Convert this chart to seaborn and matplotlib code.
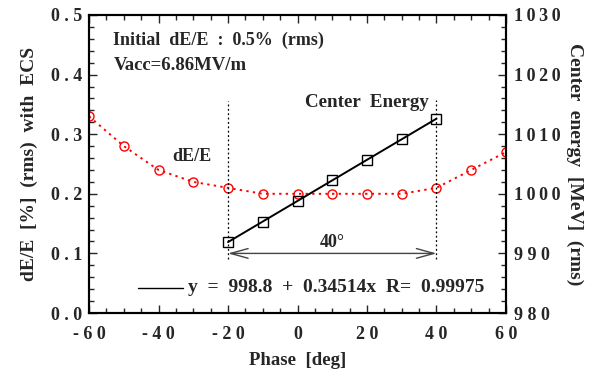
import matplotlib
matplotlib.use("Agg")
import matplotlib.pyplot as plt
import numpy as np
import pandas as pd
import seaborn as sns
from matplotlib.ticker import MultipleLocator

sns.set_theme(style="ticks")
plt.rcParams["font.family"] = ["Liberation Serif", "DejaVu Serif"]
plt.rcParams["font.weight"] = "bold"

# dE/E spread vs phase (left axis)
phase_de = [-60, -50, -40, -30, -20, -10, 0, 10, 20, 30, 40, 50, 60]
de_e = [0.33, 0.28, 0.24, 0.22, 0.21, 0.20, 0.20, 0.20, 0.20, 0.20, 0.21, 0.24, 0.27]

# center energy vs phase (right axis)
phase_ce = [-20, -10, 0, 10, 20, 30, 40]
center_e = [991.9, 995.3, 998.8, 1002.3, 1005.7, 1009.2, 1012.6]

fit_a, fit_b = 998.8, 0.34514

T = "\u2009"
x_ticks = [-60, -40, -20, 0, 20, 40, 60]
x_labels = ["- 6 0", "- 4 0", "- 2 0", "0", "2 0", "4 0", "6 0"]
y_ticks = [0.0, 0.1, 0.2, 0.3, 0.4, 0.5]
y_labels = ["0 . 0", "0 . 1", "0 . 2", "0 . 3", "0 . 4", "0 . 5"]
y2_ticks = [980, 990, 1000, 1010, 1020, 1030]
y2_labels = ["9 8 0", "9 9 0", T.join("1000"), T.join("1010"), T.join("1020"), T.join("1030")]

df_de = pd.DataFrame({"phase": phase_de, "de": de_e})
df_ce = pd.DataFrame({"phase": phase_ce, "ce": center_e})

FS = 13

fig = plt.figure(figsize=(5.95, 3.70), dpi=100)
ax = fig.add_axes([0.1496, 0.154, 0.7008, 0.8055])
ax2 = ax.twinx()

sns.lineplot(data=df_de, x="phase", y="de", ax=ax, color="red", linestyle=(0, (1.2, 2.2)),
             linewidth=1.4, marker="o", markersize=6.5, markerfacecolor="none",
             markeredgecolor="red", markeredgewidth=1.0)

sns.lineplot(data=df_ce, x="phase", y="ce", ax=ax2, color="black", linewidth=0,
             marker="s", markersize=6.5, markerfacecolor="none",
             markeredgecolor="black", markeredgewidth=1.0)
fx = np.array([phase_ce[0], phase_ce[-1]])
ax2.plot(fx, fit_a + fit_b * fx, color="black", linewidth=1.4)

ax.set_xlim(-60, 60)
ax.set_ylim(0, 0.5)
ax2.set_ylim(980, 1030)

# dotted guides and 40 deg arrow
ax.plot([-20, -20], [0.09, 0.355], color="black", linestyle=(0, (1.5, 2)), linewidth=0.9)
ax.plot([40, 40], [0.09, 0.357], color="black", linestyle=(0, (1.5, 2)), linewidth=0.9)
ax.annotate("", xy=(-20, 0.1), xytext=(40, 0.1),
            arrowprops=dict(arrowstyle="<->,head_length=0.9,head_width=0.25", color="#444444",
                            lw=1.0, mutation_scale=14, shrinkA=0, shrinkB=0))

ax.text(-53, 0.457, "Initial  dE/E  :  0.5%  (rms)", fontsize=FS, fontweight="bold", va="center")
ax.text(-53, 0.416, "Vacc=6.86MV/m", fontsize=FS + 0.5, fontweight="bold", va="center")
ax.text(-36, 0.263, "dE/E", fontsize=FS, fontweight="bold", va="center")
ax.text(2.2, 0.353, "Center  Energy", fontsize=FS + 0.7, fontweight="bold", va="center")
ax.text(10, 0.119, "40°", fontsize=FS, fontweight="bold", ha="center", va="center")
ax.plot([-46, -33], [0.042, 0.042], color="black", linewidth=1.0)
ax.text(-31.5, 0.042, "y  =  998.8  +  0.34514x  R=  0.99975", fontsize=FS + 1,
        fontweight="bold", va="center")

ax.set_xticks(x_ticks, x_labels)
ax.set_yticks(y_ticks, y_labels)
ax2.set_yticks(y2_ticks, y2_labels)
ax.xaxis.set_minor_locator(MultipleLocator(5))
ax.yaxis.set_minor_locator(MultipleLocator(0.02))
ax2.yaxis.set_minor_locator(MultipleLocator(2))

ax.tick_params(which="both", direction="in", top=True, right=False, labelsize=FS,
               width=1.0)
ax.tick_params(axis="x", pad=9)
ax.tick_params(axis="y", pad=5)
ax.tick_params(which="major", length=6)
ax.tick_params(which="minor", length=3.5)
ax2.tick_params(which="both", direction="in", labelsize=FS, width=1.0, pad=6)
ax2.tick_params(which="major", length=6)
ax2.tick_params(which="minor", length=3.5)
for lab in ax.get_xticklabels() + ax.get_yticklabels() + ax2.get_yticklabels():
    lab.set_fontweight("bold")

for a in (ax, ax2):
    for sp in a.spines.values():
        sp.set_linewidth(1.5)
        sp.set_color("black")

ax.set_xlabel("Phase  [deg]", fontsize=FS + 0.5, fontweight="bold", labelpad=7)
ax.set_ylabel("dE/E  [%]  (rms)  with  ECS", fontsize=14, fontweight="bold", labelpad=9)
ax2.set_ylabel("Center  energy  [MeV]  (rms)", fontsize=14, fontweight="bold",
               rotation=-90, labelpad=16)

fig.savefig("out.png", dpi=100)
